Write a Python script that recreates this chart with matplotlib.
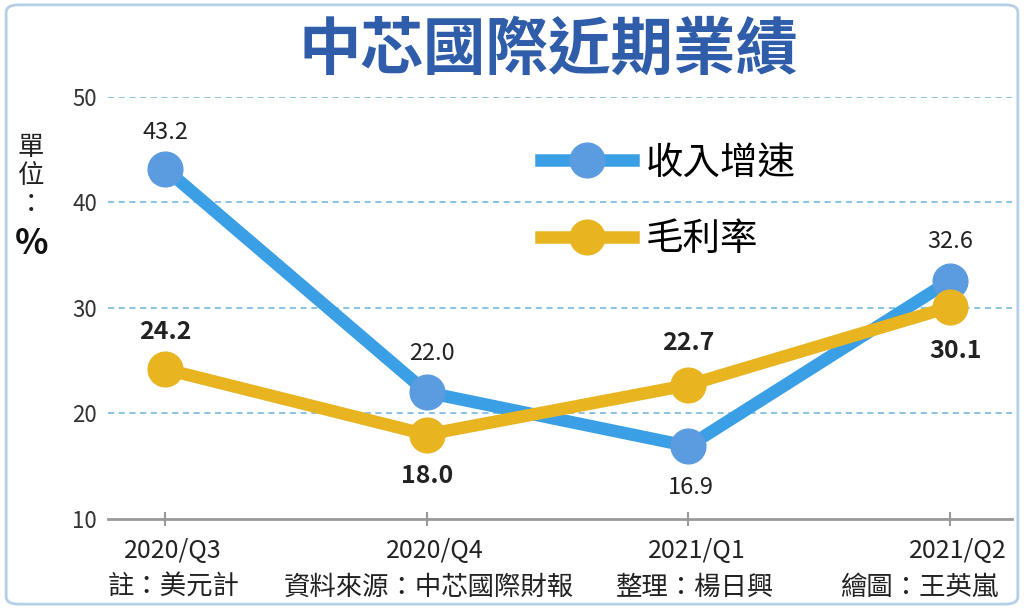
import matplotlib
matplotlib.use("Agg")
import matplotlib.pyplot as plt
import matplotlib.transforms as mtransforms
from matplotlib.patches import FancyBboxPatch
from matplotlib.lines import Line2D

plt.rcParams['font.family'] = ['Noto Sans CJK TC', 'DejaVu Sans']

# ---------------------------------------------------------------
# 資料
quarters = ["2020/Q3", "2020/Q4", "2021/Q1", "2021/Q2"]
revenue_growth = [43.2, 22.0, 16.9, 32.6]
gross_margin = [24.2, 18.0, 22.7, 30.1]
y_ticks = [10, 20, 30, 40, 50]

title = "中芯國際近期業績"
footer = ["註：美元計", "資料來源：中芯國際財報", "整理：楊日興", "繪圖：王英嵐"]

blue_line = "#3A9FE4"
blue_marker = "#5B9BDF"
gold = "#E8B420"

fig = plt.figure(figsize=(10.24, 6.09), dpi=100)
fig.patch.set_facecolor("white")

# 外框
fig.patches.append(FancyBboxPatch((0.006, 0.008), 0.988, 0.984, boxstyle="round,pad=0,rounding_size=0.012",
                                  transform=fig.transFigure, facecolor="none", edgecolor="#B5CFE8", linewidth=2))

ax = fig.add_axes([0.1055, 0.1478, 0.883, 0.693])
x = list(range(len(quarters)))

ax.plot(x, revenue_growth, color=blue_line, linewidth=9, solid_capstyle="round", zorder=3)
ax.plot(x, revenue_growth, linestyle="none", marker="o", markersize=25,
        markerfacecolor=blue_marker, markeredgecolor=blue_marker, zorder=4)
ax.plot(x, gross_margin, color=gold, linewidth=9, solid_capstyle="round", zorder=5)
ax.plot(x, gross_margin, linestyle="none", marker="o", markersize=25,
        markerfacecolor=gold, markeredgecolor=gold, zorder=6)

# 數值標籤 (offset in points)
blue_off = [(0, 26), (4, 28), (2, -30), (0, 28)]
gold_off = [(0, 27), (0, -30), (0, 30), (4, -32)]
for i, v in enumerate(revenue_growth):
    ax.annotate(f"{v:.1f}", (x[i], v), xytext=blue_off[i], textcoords="offset points",
                ha="center", va="center", fontsize=17, color="#222222", zorder=8)
for i, v in enumerate(gross_margin):
    ax.annotate(f"{v:.1f}", (x[i], v), xytext=gold_off[i], textcoords="offset points",
                ha="center", va="center", fontsize=18, fontweight="bold", color="#222222", zorder=8)

ax.set_xlim(-0.218, 3.237)
ax.set_ylim(10, 50)
ax.set_yticks(y_ticks)
ax.set_yticklabels([str(t) for t in y_ticks], fontsize=16, color="#333333")
ax.set_xticks(x)
ax.set_xticklabels(quarters, fontsize=18, color="#222222")
ax.tick_params(axis="y", length=0, pad=8)
ax.tick_params(axis="x", direction="inout", length=10, width=1.5, color="#999999", pad=9)
shift = mtransforms.ScaledTranslation(8 / 100, 0, fig.dpi_scale_trans)
for lbl in ax.get_xticklabels():
    lbl.set_transform(lbl.get_transform() + shift)

for t in y_ticks[1:]:
    ax.axhline(t, color="#6BB2DC", linestyle=(0, (4, 3)), linewidth=1.1, zorder=1)

for s in ["top", "right", "left"]:
    ax.spines[s].set_visible(False)
ax.spines["bottom"].set_color("#999999")
ax.spines["bottom"].set_linewidth(2)

# 圖例
handles = [
    Line2D([0], [0], color=blue_line, linewidth=9, marker="o", markersize=25,
           markerfacecolor=blue_marker, markeredgecolor=blue_marker),
    Line2D([0], [0], color=gold, linewidth=9, marker="o", markersize=25,
           markerfacecolor=gold, markeredgecolor=gold),
]
fig.legend(handles, ["收入增速", "毛利率"], loc="upper left", bbox_to_anchor=(0.495, 0.82),
           frameon=False, fontsize=27, handlelength=2.45, labelspacing=1.0, handletextpad=0.35)

# 標題
fig.text(0.536, 0.917, title, ha="center", va="center", fontsize=45, fontweight="bold", color="#2F5DAA")

# 單位
fig.text(0.03, 0.712, "單\n位\n：", ha="center", va="center", fontsize=19, color="#222222", linespacing=1.05)
fig.text(0.031, 0.6, "%", ha="center", va="center", fontsize=25, fontweight="bold", color="#111111")

# 註腳
footer_x = [0.105, 0.277, 0.602, 0.82]
for fx, s in zip(footer_x, footer):
    fig.text(fx, 0.036, s, ha="left", va="center", fontsize=19, color="#222222")

fig.savefig("out.png", dpi=100)
